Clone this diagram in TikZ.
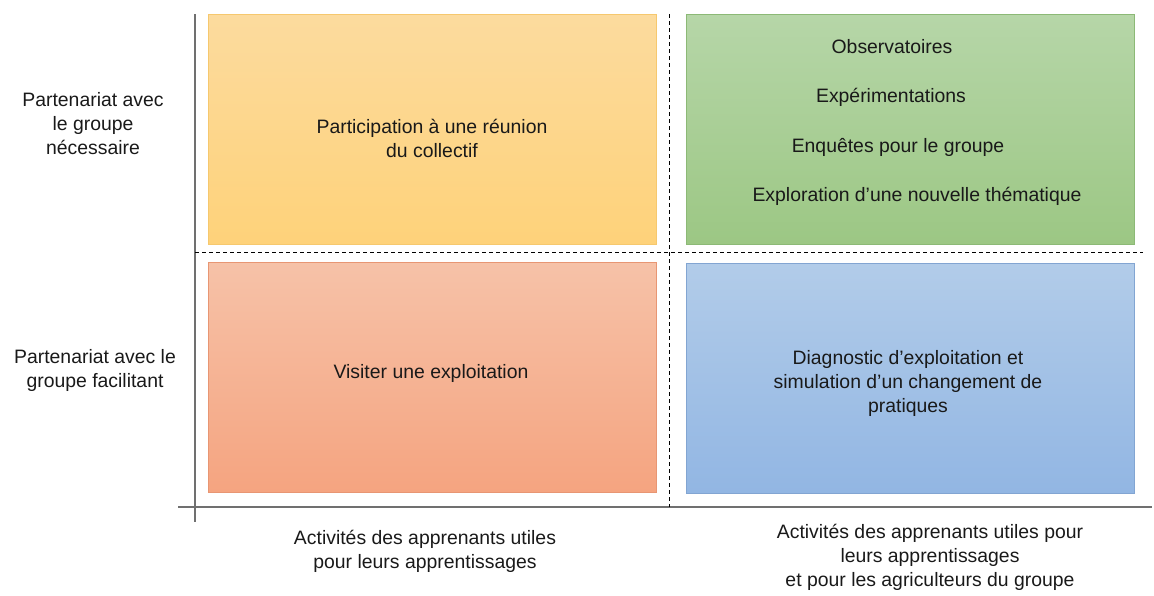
\documentclass[tikz,border=0pt]{standalone}
\usepackage{fontspec}
\setmainfont{Liberation Sans}
\usetikzlibrary{positioning}

\definecolor{orangetop}{RGB}{252,219,158}
\definecolor{orangebot}{RGB}{254,210,122}
\definecolor{orangeline}{RGB}{246,200,110}
\definecolor{greentop}{RGB}{182,214,168}
\definecolor{greenbot}{RGB}{156,199,132}
\definecolor{greenline}{RGB}{140,185,118}
\definecolor{salmontop}{RGB}{246,194,168}
\definecolor{salmonbot}{RGB}{245,164,128}
\definecolor{salmonline}{RGB}{232,150,115}
\definecolor{bluetop}{RGB}{178,204,233}
\definecolor{bluebot}{RGB}{146,182,227}
\definecolor{blueline}{RGB}{130,165,210}
\definecolor{axisgray}{RGB}{112,112,112}

\begin{document}
\begin{tikzpicture}[x=1pt,y=-1pt,
  every node/.style={font=\fontsize{19.4}{24}\selectfont, align=center, text=black!90},
  quad/.style={draw, line width=0.8pt, minimum width=448pt, minimum height=230pt, inner sep=0pt},
  axis/.style={draw=axisgray, line width=1.4pt},
  divider/.style={draw=black, line width=0.9pt, dash pattern=on 4pt off 3pt}]
  \useasboundingbox (0,0) rectangle (1154,595);

  % quadrants
  \node[quad, draw=orangeline, top color=orangetop, bottom color=orangebot] (nw) at (432,129) {};
  \node[quad, draw=greenline, top color=greentop, bottom color=greenbot] (ne) at (910,129) {};
  \node[quad, draw=salmonline, top color=salmontop, bottom color=salmonbot] (sw) at (432,377) {};
  \node[quad, draw=blueline, top color=bluetop, bottom color=bluebot] (se) at (910,378) {};

  % axes and dividers
  \coordinate (ytop) at (195,14);
  \coordinate (ybot) at (195,522);
  \coordinate (xleft) at (178,507);
  \coordinate (xright) at (1152,507);
  \coordinate (vtop) at (669,14);
  \coordinate (vbot) at (669,507);
  \coordinate (hleft) at (195,252);
  \coordinate (hright) at (1143,252);
  \path[axis] (ytop) -- (ybot);
  \path[axis] (xleft) -- (xright);
  \path[divider] (vtop) -- (vbot);
  \path[divider] (hleft) -- (hright);

  % row labels
  \node (need) at (93,124) {Partenariat avec\\le groupe\\nécessaire};
  \node (help) at (95,370) {Partenariat avec le\\groupe facilitant};

  % column labels
  \node (learn) at (425,551) {Activités des apprenants utiles\\pour leurs apprentissages};
  \node (farm) at (930,557) {Activités des apprenants utiles pour\\leurs apprentissages\\et pour les agriculteurs du groupe};

  % activities
  \node (meeting) at (432,138) {Participation à une réunion\\du collectif};
  \node (obs) at (892,47) {Observatoires};
  \node (exp) at (891,97) {Expérimentations};
  \node (survey) at (898,147) {Enquêtes pour le groupe};
  \node (theme) at (917,196) {Exploration d’une nouvelle thématique};
  \node (visit) at (431,373) {Visiter une exploitation};
  \node (diag) at (908,383) {Diagnostic d’exploitation et\\simulation d’un changement de\\pratiques};
\end{tikzpicture}
\end{document}
